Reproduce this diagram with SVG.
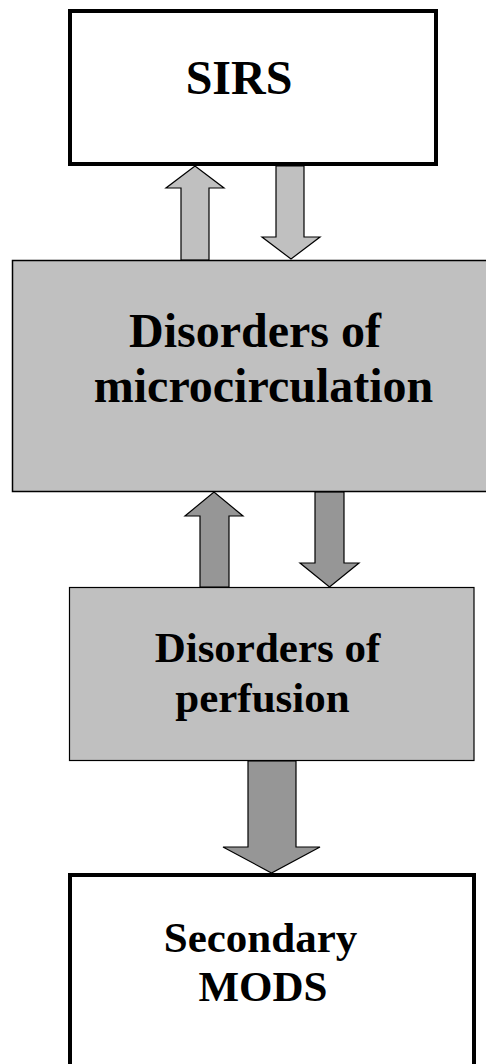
<svg xmlns="http://www.w3.org/2000/svg" width="486" height="1064" viewBox="0 0 486 1064">
<style>
.t{font-family:"Liberation Serif","Times New Roman",serif;font-weight:bold;fill:#000;text-anchor:middle}
.a1{fill:#c0c0c0;stroke:#000;stroke-width:1.2}
.a2{fill:#969696;stroke:#000;stroke-width:1.2}
</style>
<rect width="486" height="1064" fill="#fff"/>
<g id="connectors">
<path class="a1" d="M181,260 V188 H166 L195,166 L224,188 H209 V260 Z"/>
<path class="a1" d="M276,166 V237 H262 L291,259 L320,237 H304 V166 Z"/>
<path class="a2" d="M200,587 V516 H185 L214,492 L243,516 H229 V587 Z"/>
<path class="a2" d="M315,492 V563 H300 L329.5,587 L359,563 H344 V492 Z"/>
<path class="a2" d="M248,761 V847 H223 L271.5,873 L320,847 H296 V761 Z"/>
</g>
<g id="sirs">
<rect x="70" y="11" width="366" height="153" fill="#fff" stroke="#000" stroke-width="4"/>
<text class="t" x="239" y="94" font-size="48">SIRS</text>
</g>
<g id="microcirculation">
<rect x="12.5" y="260.5" width="480" height="231" fill="#c0c0c0" stroke="#000" stroke-width="1.5"/>
<text class="t" x="255" y="347" font-size="48">Disorders of</text>
<text class="t" x="263.5" y="402" font-size="48">microcirculation</text>
</g>
<g id="perfusion">
<rect x="69.5" y="587.5" width="404.5" height="173" fill="#c0c0c0" stroke="#000" stroke-width="1.2"/>
<text class="t" x="267.5" y="662" font-size="43">Disorders of</text>
<text class="t" x="262.5" y="712" font-size="43">perfusion</text>
</g>
<g id="mods">
<rect x="70" y="875" width="404" height="200" fill="#fff" stroke="#000" stroke-width="4"/>
<text class="t" x="260.5" y="952" font-size="43">Secondary</text>
<text class="t" x="263" y="1001" font-size="43">MODS</text>
</g>
</svg>
